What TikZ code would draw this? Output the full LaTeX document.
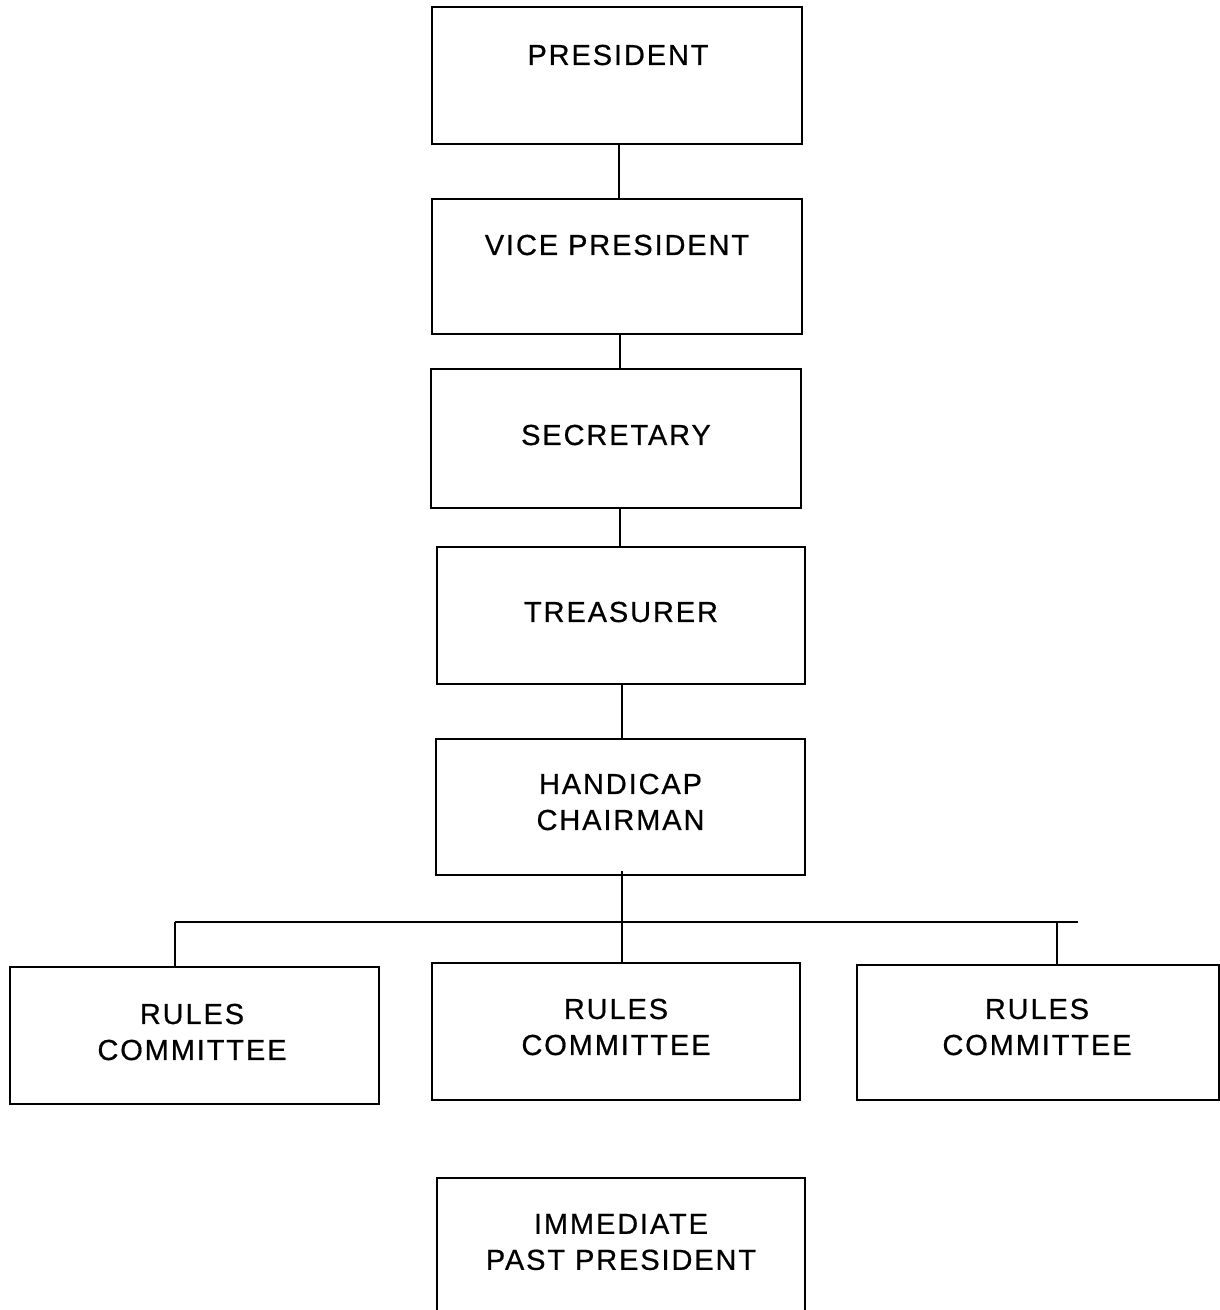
\documentclass[tikz,border=0pt]{standalone}
\usepackage{fontspec}
\setmainfont{Liberation Sans}
\newfontfamily\orgfont[LetterSpace=6.5,FakeBold=0.6]{Liberation Sans}
\begin{document}
\begin{tikzpicture}[x=1pt,y=-1pt,
  orgbox/.style={draw=black,line width=1.9pt,minimum width=370pt,minimum height=137pt,inner sep=0pt},
  lbl/.style={font=\orgfont\fontsize{29}{36}\selectfont,align=center,inner sep=0pt},
  conn/.style={draw=black,line width=1.3pt}]
\useasboundingbox (0,0) rectangle (1220,1310);
\fill[white] (0,0) rectangle (1220,1310);
% boxes
\node[orgbox] (pres) at (617,75.5) {};
\node[orgbox,minimum height=135pt] (vp) at (617,266.5) {};
\node[orgbox,minimum height=139pt] (sec) at (616,438.5) {};
\node[orgbox,minimum width=368pt] (treas) at (621,615.5) {};
\node[orgbox,minimum width=369pt,minimum height=136pt] (hand) at (620.5,807) {};
\node[orgbox,minimum width=369pt] (rc1) at (194.5,1035.5) {};
\node[orgbox,minimum width=368pt] (rc2) at (616,1031.5) {};
\node[orgbox,minimum width=362pt,minimum height=135pt] (rc3) at (1038,1032.5) {};
\node[orgbox,minimum width=368pt,minimum height=160pt] (ipp) at (621,1258) {};
% labels
\node[lbl] (tpres) at (618,55) {PRESIDENT};
\node[lbl] (tvp) at (617,245) {VICE PRESIDENT};
\node[lbl] (tsec) at (616,435) {SECRETARY};
\node[lbl] (ttreas) at (621,612) {TREASURER};
\node[lbl] (thand) at (620.5,802) {HANDICAP\\CHAIRMAN};
\node[lbl] (trc1) at (192,1032) {RULES\\COMMITTEE};
\node[lbl] (trc2) at (616,1027) {RULES\\COMMITTEE};
\node[lbl] (trc3) at (1037,1027) {RULES\\COMMITTEE};
\node[lbl] (tipp) at (621,1242) {IMMEDIATE\\PAST PRESIDENT};
% connectors
\draw[conn] (pres.south -| 619,0) -- (vp.north -| 619,0);
\draw[conn] (vp.south -| 620,0) -- (sec.north -| 620,0);
\draw[conn] (sec.south -| 620,0) -- (treas.north -| 620,0);
\draw[conn] (treas.south -| 622,0) -- (hand.north -| 622,0);
\coordinate (busL) at (175,922);
\coordinate (busM) at (622,922);
\coordinate (busD3) at (1057,922);
\coordinate (busR) at (1078,922);
\draw[conn] ([yshift=5pt]hand.south -| busM) -- (rc2.north -| busM);
\draw[conn] (busL) -- (busR);
\draw[conn] (busL) -- (busL |- rc1.north);
\draw[conn] (busD3) -- (busD3 |- rc3.north);
\end{tikzpicture}
\end{document}
